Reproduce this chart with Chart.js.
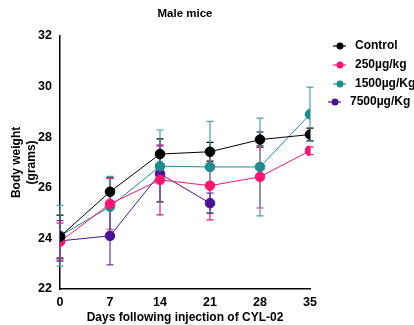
<!DOCTYPE html>
<html>
<head>
<meta charset="utf-8">
<script src="https://cdn.jsdelivr.net/npm/chart.js@4"></script>
<style>
  html, body { margin: 0; padding: 0; background: #fff; }
  #wrap { width: 414px; height: 325px; position: relative; }
</style>
</head>
<body>
<div id="wrap"><canvas id="chart"></canvas></div>
<script>
// days on the x axis
const days = [0, 7, 14, 21, 28, 35];
const yTicks = [22, 24, 26, 28, 30, 32];

// mean body weight (grams) per group
const controlMean = [24.07, 25.84, 27.33, 27.42, 27.9, 28.1];
const dose250Mean = [23.87, 25.36, 26.31, 26.08, 26.43, 27.46];
const dose1500Mean = [24.1, 25.25, 26.85, 26.82, 26.82, 28.9];
const dose7500Mean = [23.9, 24.1, 26.55, 25.39, null, null];

// error (+/-) per group
const controlErr = [0.85, 0.55, 0.6, 0.37, 0.3, 0.25];
const dose250Err = [0.73, 1.0, 1.38, 1.35, 1.23, 0.15];
const dose1500Err = [1.2, 1.2, 1.43, 1.8, 1.93, 1.07];
const dose7500Err = [0.8, 1.15, 1.1, 0.4, null, null];

const groupNames = ['Control', '250µg/kg', '1500µg/Kg', '7500µg/Kg'];
const groupColours = ['#000000', '#ff1472', '#1c8c8c', '#4b1296'];
const errColours = ['#000000', '#ff1472', '#4aa3a3', '#6a3aa8'];

const means = [controlMean, dose250Mean, dose1500Mean, dose7500Mean];
const errs = [controlErr, dose250Err, dose1500Err, dose7500Err];

const FONT = '"Liberation Sans", Arial, sans-serif';
const boldFont = (size) => ({ family: FONT, size: size, weight: 'bold' });

const datasets = groupNames.map((name, i) => ({
  label: name,
  data: days.map((d, j) => ({ x: d, y: means[i][j] })),
  errors: errs[i],
  borderColor: groupColours[i],
  backgroundColor: groupColours[i],
  pointBackgroundColor: groupColours[i],
  pointBorderColor: groupColours[i],
  pointRadius: 4.8,
  borderWidth: 1,
  spanGaps: false,
  errColour: errColours[i]
}));

// vertical error bars with caps
const errorBars = {
  id: 'errorBars',
  beforeDatasetsDraw(chart) {
    const ctx = chart.ctx;
    const y = chart.scales.y;
    chart.data.datasets.forEach((ds, i) => {
      chart.getDatasetMeta(i).data.forEach((pt, j) => {
        const m = ds.data[j].y, e = ds.errors[j];
        if (m == null || e == null) return;
        const top = y.getPixelForValue(m + e);
        const bot = y.getPixelForValue(m - e);
        ctx.save();
        ctx.strokeStyle = ds.errColour;
        ctx.lineWidth = 1.2;
        ctx.beginPath();
        ctx.moveTo(pt.x, top); ctx.lineTo(pt.x, bot);
        ctx.moveTo(pt.x - 3.5, top); ctx.lineTo(pt.x + 3.5, top);
        ctx.moveTo(pt.x - 3.5, bot); ctx.lineTo(pt.x + 3.5, bot);
        ctx.stroke();
        ctx.restore();
      });
    });
  }
};

// legend to the right of the plot, line + dot markers
const sideLegend = {
  id: 'sideLegend',
  afterDraw(chart) {
    const ctx = chart.ctx;
    const area = chart.chartArea;
    const rowY = [46, 65, 84, 102];
    const shift = [0, 0, 0, -5];
    ctx.save();
    chart.data.datasets.forEach((ds, i) => {
      const cx = area.right + 30 + shift[i];
      const cy = rowY[i];
      ctx.strokeStyle = ds.borderColor;
      ctx.fillStyle = ds.borderColor;
      ctx.lineWidth = 1.2;
      ctx.beginPath(); ctx.moveTo(cx - 7, cy); ctx.lineTo(cx + 6, cy); ctx.stroke();
      ctx.beginPath(); ctx.arc(cx, cy, 3.5, 0, Math.PI * 2); ctx.fill();
      ctx.fillStyle = '#000';
      ctx.font = 'bold 12px ' + FONT;
      ctx.textBaseline = 'middle';
      ctx.textAlign = 'left';
      ctx.fillText(ds.label, cx + 15, cy);
    });
    ctx.restore();
  }
};

new Chart(document.getElementById('chart'), {
  type: 'line',
  data: { datasets: datasets },
  options: {
    responsive: true,
    maintainAspectRatio: false,
    animation: false,
    layout: { padding: { top: 0, right: 104, left: 0, bottom: 0 } },
    plugins: {
      title: {
        display: true,
        fullSize: false,
        text: 'Male mice',
        color: '#000',
        font: boldFont(11.5),
        padding: { top: 7, bottom: 15 }
      },
      legend: { display: false },
      tooltip: { enabled: false }
    },
    scales: {
      x: {
        type: 'linear',
        min: 0,
        max: 35,
        afterBuildTicks(axis) { axis.ticks = days.map(v => ({ value: v })); },
        afterFit(axis) { axis.height = 36; },
        grid: { display: false, drawTicks: true, tickLength: 5, tickColor: '#000' },
        border: { color: '#000', width: 1.5 },
        ticks: { color: '#000', font: boldFont(12.5), padding: 1 },
        title: {
          display: true,
          text: 'Days following injection of CYL-02',
          color: '#000',
          font: boldFont(12),
          padding: { top: 0, bottom: 0 }
        }
      },
      y: {
        min: 22,
        max: 32,
        afterBuildTicks(axis) { axis.ticks = yTicks.map(v => ({ value: v })); },
        afterFit(axis) { axis.width = 60; },
        grid: { display: false, drawTicks: true, tickLength: 7, tickColor: '#000' },
        border: { color: '#000', width: 1.5 },
        ticks: { color: '#000', font: boldFont(12.5), padding: 1 },
        title: {
          display: true,
          text: ['Body weight', '(grams)'],
          color: '#000',
          font: { family: FONT, size: 12, weight: 'bold', lineHeight: 1.25 },
          padding: { top: 9, bottom: 0 }
        }
      }
    }
  },
  plugins: [errorBars, sideLegend]
});
</script>
</body>
</html>
